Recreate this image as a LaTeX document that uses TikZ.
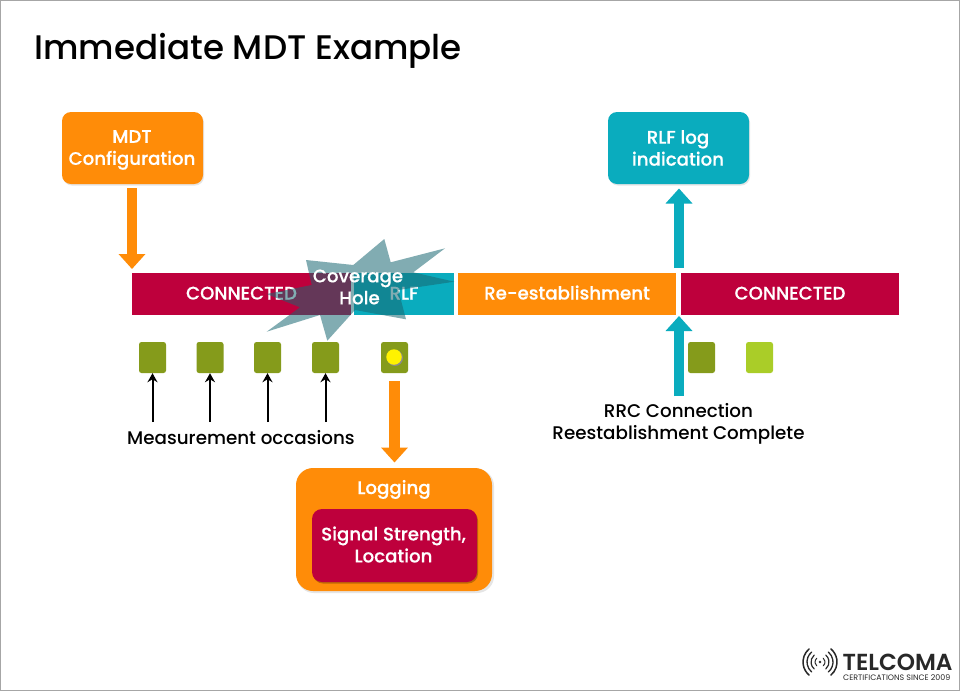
\documentclass[tikz,border=0pt]{standalone}
\usepackage{fontspec}
\setmainfont{Poppins Medium}
\newfontfamily\whfont[FakeBold=0.35]{Poppins Medium}
\newfontfamily\logofont{Poppins SemiBold}
\newfontfamily\logosub{Poppins}
\usetikzlibrary{arrows.meta,calc}
\definecolor{crim}{RGB}{190,0,60}
\definecolor{orng}{RGB}{255,140,8}
\definecolor{teal1}{RGB}{10,172,190}
\definecolor{oliv}{RGB}{133,155,27}
\definecolor{lime1}{RGB}{170,205,40}
\definecolor{star1}{RGB}{24,102,113}
\definecolor{ink}{RGB}{40,40,40}
\tikzset{
 x=1pt,y=-1pt,
 lbl/.style={text=white,font=\whfont\fontsize{18.2}{22}\selectfont,align=center,inner sep=0pt},
 txtb/.style={text=black,font=\fontsize{18.3}{22}\selectfont,align=center,inner sep=0pt},
 bar/.style={fill=#1,draw=none,minimum height=42pt,inner sep=0pt,text height=13pt,text depth=2pt,text=white,font=\whfont\fontsize{18.2}{22}\selectfont},
 callout/.style={fill=#1,rounded corners=9pt,minimum width=141pt,minimum height=72pt,inner sep=0pt},
 occ/.style={fill=#1,rounded corners=2.5pt,minimum width=27pt,minimum height=31pt,inner sep=0pt},
 fat/.style={draw=#1,line width=10.8pt,-{Triangle[width=26pt,length=15pt,fill=#1]}},
 thinar/.style={draw=black,line width=2pt,-{Stealth[width=10pt,length=9pt]}},
 soft/.style={fill=black!10},
}
\begin{document}
\begin{tikzpicture}
\useasboundingbox (0,0) rectangle (960,691);
\fill[white] (0,0) rectangle (960,691);
\draw[gray!70,line width=1pt] (0.5,0.5) rectangle (959.5,690.5);
\node[anchor=base west,inner sep=0pt,font=\fontsize{34.1}{40}\selectfont] (title) at (34,59) {Immediate MDT Example};
% callouts
\fill[soft,rounded corners=9pt] (63,113.5) rectangle (204,185.5);
\fill[soft,rounded corners=9pt] (609,113.5) rectangle (750,185.5);
\node[callout=orng] (mdt) at (132.5,148) {};
\node[lbl] (mdtt) at (132,150) {MDT\\Configuration};
\node[callout=teal1] (rlflog) at (678.5,148) {};
\node[lbl] (rlft) at (678,148) {RLF log\\indication};
\node[bar=crim,minimum width=219pt] (c1) at (241.5,294) {CONNECTED};
\node[bar=teal1,minimum width=100pt] (rlf) at (404,294) {RLF};
\node[bar=orng,minimum width=218pt] (re) at (567,294) {Re-establishment};
\node[bar=crim,minimum width=218pt] (c2) at (790,294) {CONNECTED};
\coordinate (ctop) at (132,269);
\draw[fat=orng] (132,188) -- (ctop);
\coordinate (up1) at (679,188.5);
\coordinate (up0) at (679,268);
\draw[fat=teal1] (up0) -- (up1);
\coordinate (up2) at (679,316);
\coordinate (upf) at (679,396);
\draw[fat=teal1] (upf) -- (up2);
\node[occ=oliv] (m1) at (152.5,357.5) {};
\node[occ=oliv] (m2) at (210,357.5) {};
\node[occ=oliv] (m3) at (267.5,357.5) {};
\node[occ=oliv] (m4) at (325.5,357.5) {};
\node[occ=oliv] (m5) at (394.5,357.5) {};
\node[occ=oliv] (m6) at (701.5,357.5) {};
\node[occ=lime1] (m7) at (759.5,357.5) {};
\fill[black!45] (395,358) circle (8pt);
\node[circle,fill=yellow,minimum size=15.5pt,inner sep=0pt] (dot) at (394,357) {};
\foreach \i/\x in {1/152.5,2/210,3/267.5,4/325.5}{
  \coordinate (f\i) at (\x,422);
  \draw[thinar] (f\i) -- (m\i.south);
}
\node[txtb] (meas) at (241,437.5) {Measurement occasions};
\node[txtb] (rrc) at (678.5,424) {RRC Connection\\Reestablishment Complete};
\fill[soft,rounded corners=17pt] (297,469) rectangle (494,593);
\node[fill=orng,rounded corners=17pt,minimum width=196pt,minimum height=123pt,inner sep=0pt] (logbox) at (394,529.5) {};
\node[fill=orng!75!black,rounded corners=10pt,minimum width=165pt,minimum height=73pt,inner sep=0pt] (sigs) at (395.5,547) {};
\node[fill=crim,rounded corners=10pt,minimum width=165pt,minimum height=73pt,inner sep=0pt] (sig) at (394.5,545.5) {};
\node[lbl] (sigt) at (393.5,544.5) {Signal Strength,\\Location};
\node[lbl,anchor=base] (logt) at (394,494) {Logging};
\coordinate (lf) at (394.5,381);
\coordinate (lt) at (394.5,462.5);
\draw[fat=orng] (lf) -- (lt);
\fill[star1,fill opacity=.54] (384.3,239) -- (390.7,262.3) -- (445,248.3) -- (413.3,272.3) -- (454.3,281.7) -- (398.3,290) -- (406,319.3) -- (355,310) -- (327.3,340.7) -- (320,315) -- (266.7,331.7) -- (300,307.3) -- (266.7,294) -- (311.7,285) -- (306,260) -- (353.3,265) -- cycle;
\node[lbl] (cov) at (358,287) {Coverage\\\hspace{3pt}Hole};
% logo
\begin{scope}[ink,line cap=round]
 \fill (820,662) circle (1.3pt);
 \foreach \r/\w in {5/1.0,9/1.2,13/1.3,17/1.5}{
  \draw[line width=\w pt] ($(820,662)+(-50:\r pt)$) arc[start angle=-50,end angle=50,radius=\r pt];
  \draw[line width=\w pt] ($(820,662)+(130:\r pt)$) arc[start angle=130,end angle=230,radius=\r pt];
 }
\end{scope}
\node[anchor=base west,inner sep=0pt,text depth=0pt,text=ink,font=\logofont\fontsize{23.2}{26}\selectfont] (logo) at (842.5,670.5) {TELCOMA};
\node[anchor=base west,inner sep=0pt,text height=5.6pt,text depth=0pt,text=ink,font=\logosub\fontsize{7.9}{8}\selectfont] (logos) at (843,680) {CERTIFICATIONS SINCE 2009};
\end{tikzpicture}
\end{document}
